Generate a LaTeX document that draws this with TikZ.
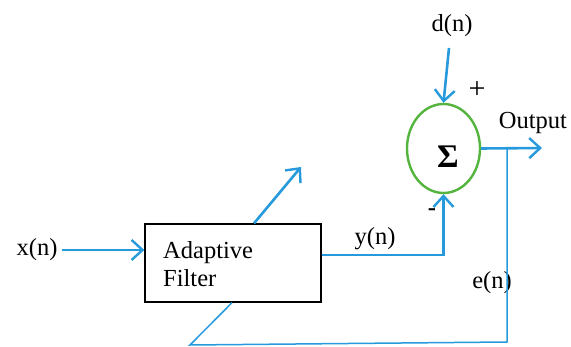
\documentclass[tikz,border=0pt]{standalone}
\usepackage{fontspec}
\setmainfont{Liberation Serif}
\usetikzlibrary{arrows.meta, positioning, shapes.geometric}
\definecolor{lineblue}{RGB}{38,154,220}
\definecolor{sumgreen}{RGB}{84,180,62}

\begin{document}
\begin{tikzpicture}[x=1pt, y=-1pt, font=\fontsize{24.5}{28}\selectfont,
  sig/.style={lineblue, line width=2.6pt, -{Straight Barb[length=11pt, width=20pt, line width=2.4pt]}},
  wire/.style={lineblue, line width=1.5pt},
  lbl/.style={inner sep=0pt}]
\useasboundingbox (0,0) rectangle (571,347);
% blocks
\node[draw, line width=1.3pt, minimum width=176pt, minimum height=78pt, inner sep=0pt] (filter) at (233,263) {};
\node[lbl, align=left, anchor=west] (filtertext) at (163,264) {Adaptive\\Filter};
\node[ellipse, draw=sumgreen, line width=2.4pt, minimum width=73pt, minimum height=89pt, inner sep=0pt] (sum) at (443.5,148.5) {};
\node[lbl, font=\fontsize{33}{36}\selectfont\bfseries] (sigma) at (448,157) {Σ};
% labels
\node[lbl] (xn) at (37,250) {x(n)};
\node[lbl] (dn) at (452,26) {d(n)};
\node[lbl, font=\fontsize{30}{32}\selectfont] (plus) at (477,90) {+};
\node[lbl] (minus) at (432,212) {\textbf{-}};
\node[lbl] (yn) at (375,239) {y(n)};
\node[lbl] (en) at (492,283) {e(n)};
\node[lbl] (output) at (533,123) {Output};
\coordinate (adj) at (301,167);
\coordinate (out) at (542,148);
\coordinate (tap) at (507,148);
\coordinate (dtop) at (449,48);
% connectors
\draw[sig] (xn.east) ++(4pt,0) -- (xn -| filter.west);
\draw[sig] ([xshift=21pt]filter.north) -- (adj);
\draw[sig] ([yshift=8pt]filter.east) -| (sum.south);
\draw[sig] (dtop) -- (sum.north);
\draw[sig] (sum.east) -- (out);
\draw[wire] (tap) -- (507,342) -- (190,345) -- ([xshift=-1pt]filter.south);
\end{tikzpicture}
\end{document}
